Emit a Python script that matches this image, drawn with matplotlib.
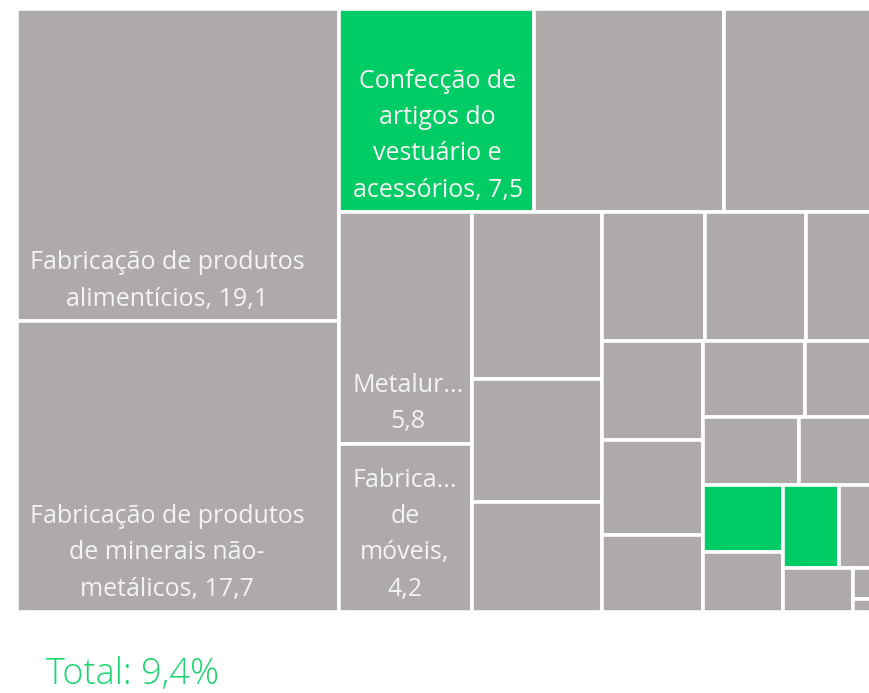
import matplotlib
matplotlib.use("Agg")
import matplotlib.pyplot as plt
from matplotlib.patches import Rectangle

# share of each industry (%), largest first
values = [19.1, 17.7, 7.5, 7.3, 6.6, 5.8, 4.2, 4.1, 3.0, 2.7,
          2.5, 2.45, 2.15, 1.9, 1.8, 1.47, 1.46, 1.3, 1.24, 1.23,
          1.0, 0.9, 0.88, 0.87, 0.58, 0.25, 0.1]
# which tiles are highlighted in green
highlight = [False, False, True, False, False, False, False, False, False, False,
             False, False, False, False, False, False, False, False, False, False,
             True, False, True, False, False, False, False]
# labels power bi managed to fit (truncated ones as shown)
labels = ["Fabricação de produtos\nalimentícios, 19,1",
          "Fabricação de produtos\nde minerais não-\nmetálicos, 17,7",
          "Confecção de\nartigos do\nvestuário e\nacessórios, 7,5",
          "", "", "Metalur...\n5,8", "Fabrica...\nde\nmóveis,\n4,2"] + [""] * 20
total_label = "Total: 9,4%"

GREY = "#aeaaa9"
GREEN = "#00cc66"
BOX_W, BOX_H = 878.4, 603.0
RATIO = 0.95


def worst(row, u):
    s = sum(row)
    return max(RATIO * max(row) * u * u / (s * s), s * s / (min(row) * u * u * RATIO))


def squarify(vals, x, y, w, h):
    tot = sum(vals)
    areas = [v * w * h / tot for v in vals]
    out = []
    i = 0
    while i < len(areas):
        u = min(w, h)
        row = [areas[i]]
        best = worst(row, u)
        j = i + 1
        while j < len(areas):
            sc = worst(row + [areas[j]], u)
            if sc > best:
                break
            row.append(areas[j])
            best = sc
            j += 1
        s = sum(row)
        if w >= h:
            t = s / h
            yy = y
            for a in row:
                out.append((x, yy, t, a / t))
                yy += a / t
            x += t
            w -= t
        else:
            t = s / w
            xx = x
            for a in row:
                out.append((xx, y, a / t, t))
                xx += a / t
            y += t
            h -= t
        i = j
    return out


fig = plt.figure(figsize=(8.69, 6.93), dpi=100)
ax = fig.add_axes([16.5 / 869, (693 - 611.5) / 693, BOX_W / 869, BOX_H / 693])
ax.set_xlim(0, BOX_W)
ax.set_ylim(BOX_H, 0)
ax.axis("off")

rects = squarify(values, 0, 0, BOX_W, BOX_H)
for (x, y, w, h), hl, lab in zip(rects, highlight, labels):
    ax.add_patch(Rectangle((x, y), w, h, facecolor=GREEN if hl else GREY,
                           edgecolor="white", linewidth=2.6, clip_on=False))
    if lab:
        ax.annotate(lab, xy=(x, y + h), xytext=(9.5, 7), textcoords="offset points",
                    ha="left", va="bottom", multialignment="center",
                    color="#f4f4f4", fontsize=18, family="Open Sans",
                    linespacing=1.6)

fig.text(46 / 869, 9 / 693, total_label, color="#1ed472", fontsize=26,
         family="Open Sans", fontweight="light", va="baseline")

fig.savefig("out.png", dpi=100)
